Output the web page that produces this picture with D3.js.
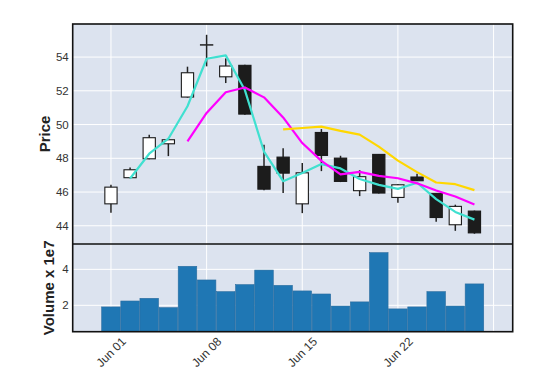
<!DOCTYPE html>
<html>
<head>
<meta charset="utf-8">
<script src="https://cdn.jsdelivr.net/npm/d3@7"></script>
<style>
  html, body { margin: 0; padding: 0; background: #fff; }
  svg { display: block; }
  text { font-family: "Liberation Sans", Arial, Helvetica, sans-serif; }
</style>
</head>
<body>
<svg id="chart" width="545" height="391"></svg>
<script>
// ---- data ----
const dates = ["2020-06-01","2020-06-02","2020-06-03","2020-06-04","2020-06-05",
               "2020-06-08","2020-06-09","2020-06-10","2020-06-11","2020-06-12",
               "2020-06-15","2020-06-16","2020-06-17","2020-06-18","2020-06-19",
               "2020-06-22","2020-06-23","2020-06-24","2020-06-25","2020-06-26"];
const opens  = [45.30, 46.85, 47.97, 48.86, 51.63, 54.71, 52.83, 53.51, 47.52, 48.07,
                45.30, 49.53, 48.01, 46.08, 48.23, 45.68, 46.89, 45.92, 44.06, 44.87];
const highs  = [46.43, 47.46, 49.40, 49.15, 53.43, 55.32, 53.92, 53.55, 48.80, 48.60,
                47.72, 49.73, 48.15, 47.30, 48.25, 46.47, 47.08, 45.95, 45.25, 44.90];
const lows   = [44.77, 46.82, 47.95, 48.13, 51.60, 53.45, 52.46, 50.58, 46.10, 45.94,
                44.75, 47.24, 46.59, 45.76, 45.92, 45.36, 46.65, 44.24, 43.70, 43.53];
const closes = [46.29, 47.32, 49.22, 49.10, 53.07, 54.73, 53.47, 50.62, 46.17, 47.12,
                47.14, 48.17, 46.63, 46.91, 45.94, 46.43, 46.67, 44.49, 45.15, 43.58];
const volumes = [1.91, 2.24, 2.39, 1.87, 4.17, 3.41, 2.76, 3.15, 3.96, 3.11,
                 2.80, 2.63, 1.96, 2.19, 4.93, 1.80, 1.91, 2.76, 1.96, 3.19]; // x 1e7
const mavPeriods = [2, 5, 10];
const mavColors = ["#40e0d0", "#ff00ff", "#ffd700"];
const priceTicks = [44, 46, 48, 50, 52, 54];
const volumeTicks = [2, 4];
const xTickIndex = [0, 5, 10, 15, 20];
const xTickLabels = ["Jun 01", "Jun 08", "Jun 15", "Jun 22", ""];

// ---- layout ----
const L = 72.7, R = 512.7, T = 24, MID = 244, B = 331.7;
const svg = d3.select("#chart");

const x = d3.scaleLinear().domain([-2, 21]).range([L, R]);
const step = x(1) - x(0);
const yP = d3.scaleLinear().domain([42.92, 55.96]).range([MID, T]);
const yV = d3.scaleLinear().domain([0.533, 5.41]).range([B, MID]);

const bg = "#DCE3EF";
svg.append("rect").attr("x", L).attr("y", T).attr("width", R - L).attr("height", MID - T).attr("fill", bg);
svg.append("rect").attr("x", L).attr("y", MID).attr("width", R - L).attr("height", B - MID).attr("fill", bg);

// grids
const grid = svg.append("g").attr("stroke", "#fff").attr("stroke-width", 1);
xTickIndex.forEach(i => {
  grid.append("line").attr("x1", x(i)).attr("x2", x(i)).attr("y1", T).attr("y2", B);
});
priceTicks.forEach(v => {
  grid.append("line").attr("x1", L).attr("x2", R).attr("y1", yP(v)).attr("y2", yP(v));
});
volumeTicks.forEach(v => {
  grid.append("line").attr("x1", L).attr("x2", R).attr("y1", yV(v)).attr("y2", yV(v));
});

// volume bars
const vw = step * 0.97;
svg.append("g").selectAll("rect").data(volumes).join("rect")
  .attr("x", (d, i) => x(i) - vw / 2)
  .attr("width", vw)
  .attr("y", d => yV(d))
  .attr("height", d => B - yV(d))
  .attr("fill", "#1f77b4")
  .attr("stroke", "#2b6d9f")
  .attr("stroke-width", 0.6);

// candles
const cw = step * 0.64;
const candles = svg.append("g");
dates.forEach((d, i) => {
  const up = closes[i] >= opens[i];
  candles.append("line")
    .attr("x1", x(i)).attr("x2", x(i))
    .attr("y1", yP(highs[i])).attr("y2", yP(lows[i]))
    .attr("stroke", "#222").attr("stroke-width", 1.5);
  const top = yP(Math.max(opens[i], closes[i]));
  const bot = yP(Math.min(opens[i], closes[i]));
  candles.append("rect")
    .attr("x", x(i) - cw / 2).attr("width", cw)
    .attr("y", top).attr("height", Math.max(0.01, bot - top))
    .attr("fill", up ? "#fff" : "#1c1c1c")
    .attr("stroke", "#1a1a1a").attr("stroke-width", 1.1);
});

// moving averages
mavPeriods.forEach((p, k) => {
  const pts = [];
  for (let i = p - 1; i < closes.length; i++) {
    pts.push([i, d3.mean(closes.slice(i - p + 1, i + 1))]);
  }
  svg.append("path")
    .attr("d", d3.line().x(d => x(d[0])).y(d => yP(d[1]))(pts))
    .attr("fill", "none")
    .attr("stroke", mavColors[k])
    .attr("stroke-width", 2.2)
    .attr("stroke-linejoin", "round");
});

// frames
const frame = svg.append("g").attr("fill", "none").attr("stroke", "#111").attr("stroke-width", 1.6);
frame.append("rect").attr("x", L).attr("y", T).attr("width", R - L).attr("height", B - T);
frame.append("line").attr("x1", L).attr("x2", R).attr("y1", MID).attr("y2", MID);

// tick labels
const tickColor = "#333";
svg.append("g").selectAll("text").data(priceTicks).join("text")
  .attr("x", L - 4).attr("y", d => yP(d)).attr("dy", "0.35em")
  .attr("text-anchor", "end").attr("font-size", 11.5).attr("fill", tickColor)
  .text(d => d);
svg.append("g").selectAll("text").data(volumeTicks).join("text")
  .attr("x", L - 4).attr("y", d => yV(d)).attr("dy", "0.35em")
  .attr("text-anchor", "end").attr("font-size", 11.5).attr("fill", tickColor)
  .text(d => d);
svg.append("g").selectAll("text").data(xTickIndex).join("text")
  .attr("transform", d => `translate(${x(d)},352) rotate(-45)`)
  .attr("dy", "0.35em")
  .attr("text-anchor", "middle").attr("font-size", 12).attr("fill", tickColor)
  .text((d, i) => xTickLabels[i]);

// axis titles
svg.append("text")
  .attr("transform", `translate(49.5,${(T + MID) / 2}) rotate(-90)`)
  .attr("text-anchor", "middle").attr("font-size", 15).attr("font-weight", "bold").attr("fill", "#222")
  .text("Price");
svg.append("text")
  .attr("transform", `translate(53.5,${(MID + B) / 2}) rotate(-90)`)
  .attr("text-anchor", "middle").attr("font-size", 15).attr("font-weight", "bold").attr("fill", "#222")
  .text("Volume x 1e7");
</script>
</body>
</html>
